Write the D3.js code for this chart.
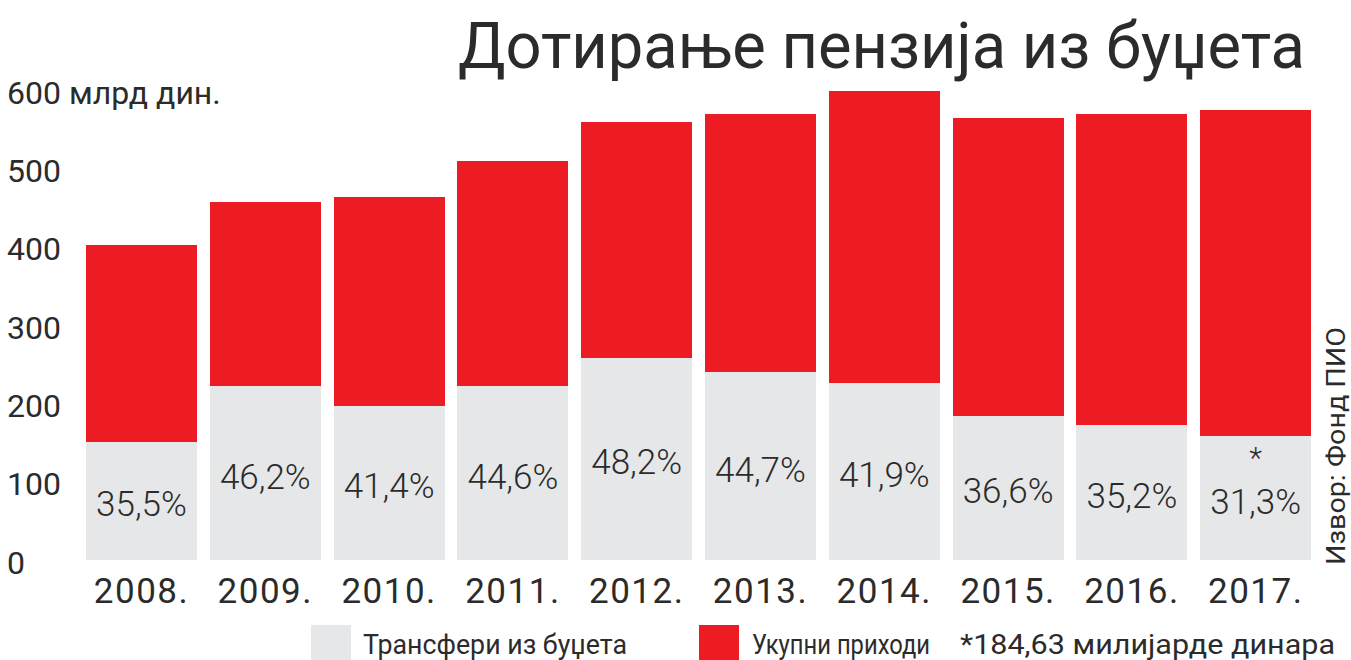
<!DOCTYPE html>
<html>
<head>
<meta charset="utf-8">
<script src="https://cdn.jsdelivr.net/npm/d3@7"></script>
<style>
  body { margin: 0; background: #fff; }
  text { font-family: Roboto, "Noto Sans", sans-serif; fill: #2b2b2b; }
</style>
</head>
<body>
<svg id="chart" width="1351" height="660"></svg>
<script>
// values (млрд дин.)
var years = ["2008.", "2009.", "2010.", "2011.", "2012.", "2013.", "2014.", "2015.", "2016.", "2017."];
var ukupniPrihodi = [402, 457, 463, 509, 559, 569, 599, 564, 569, 574];
var transferi = [151, 222, 197, 222, 258, 240, 226, 184, 172, 158];
var procenti = ["35,5%", "46,2%", "41,4%", "44,6%", "48,2%", "44,7%", "41,9%", "36,6%", "35,2%", "31,3%"];
var napomena = [false, false, false, false, false, false, false, false, false, true];
var yTicks = [0, 100, 200, 300, 400, 500, 600];

var red = "#ED1C24", grey = "#E6E7E8";

var svg = d3.select("#chart");

var x = d3.scaleBand()
	.domain(years)
	.range([79.6, 1317.6])
	.paddingInner(0.103)
	.paddingOuter(0.0515);

var y = d3.scaleLinear()
	.domain([0, 600])
	.range([560, 90]);

// title
svg.append("text")
	.attr("x", 1305)
	.attr("y", 68)
	.attr("text-anchor", "end")
	.attr("textLength", 847)
	.attr("lengthAdjust", "spacingAndGlyphs")
	.style("font-size", "64px")
	.text("Дотирање пензија из буџета");

// y axis labels
var yAxis = d3.axisRight(y)
	.tickValues(yTicks)
	.tickSize(0)
	.tickPadding(0)
	.tickFormat(function(d) { return d == 600 ? "600 млрд дин." : d; });
var gy = svg.append("g")
	.attr("transform", "translate(7,3)")
	.call(yAxis);
gy.select(".domain").remove();
gy.selectAll("text")
	.attr("fill", "#2b2b2b")
	.style("font-size", "32px")
	.style("font-family", "Roboto, sans-serif");

// bars
var bars = svg.append("g").attr("shape-rendering", "crispEdges");
bars.selectAll("rect.total")
	.data(years)
	.enter()
	.append("rect")
	.attr("class", "total")
	.attr("x", function(d) { return x(d); })
	.attr("width", x.bandwidth())
	.attr("y", function(d, i) { return y(ukupniPrihodi[i]); })
	.attr("height", function(d, i) { return y(0) - y(ukupniPrihodi[i]); })
	.style("fill", red);
bars.selectAll("rect.transfer")
	.data(years)
	.enter()
	.append("rect")
	.attr("class", "transfer")
	.attr("x", function(d) { return x(d); })
	.attr("width", x.bandwidth())
	.attr("y", function(d, i) { return y(transferi[i]); })
	.attr("height", function(d, i) { return y(0) - y(transferi[i]); })
	.style("fill", grey);

// percent labels
svg.append("g").selectAll("text")
	.data(years)
	.enter()
	.append("text")
	.attr("x", function(d) { return x(d) + x.bandwidth() / 2; })
	.attr("y", function(d, i) { return y(transferi[i] / 2) + 4; })
	.attr("text-anchor", "middle")
	.attr("dominant-baseline", "central")
	.style("font-size", "35px")
	.style("font-weight", "300")
	.text(function(d, i) { return procenti[i]; });

// asterisk on 2017
svg.append("g").selectAll("text")
	.data(years.filter(function(d, i) { return napomena[i]; }))
	.enter()
	.append("text")
	.attr("x", function(d) { return x(d) + x.bandwidth() / 2; })
	.attr("y", function(d) { return y(transferi[years.indexOf(d)] / 2) - 30; })
	.attr("text-anchor", "middle")
	.style("font-size", "30px")
	.style("font-weight", "300")
	.text("*");

// x axis (years)
var xAxis = d3.axisBottom(x).tickSize(0).tickPadding(0);
var gx = svg.append("g")
	.attr("transform", "translate(0,578)")
	.call(xAxis);
gx.select(".domain").remove();
gx.selectAll("text")
	.attr("fill", "#2b2b2b")
	.attr("dy", "0.71em")
	.style("font-size", "35px")
	.style("letter-spacing", "1.5px")
	.style("font-family", "Roboto, sans-serif");

// source
svg.append("text")
	.attr("transform", "translate(1345,565) rotate(-90)")
	.attr("textLength", 238)
	.attr("lengthAdjust", "spacingAndGlyphs")
	.style("font-size", "25px")
	.text("Извор: Фонд ПИО");

// legend
var legend = svg.append("g");
legend.append("rect").attr("x", 311).attr("y", 625).attr("width", 40).attr("height", 40).style("fill", grey);
legend.append("text").attr("x", 363).attr("y", 654)
	.attr("textLength", 264).attr("lengthAdjust", "spacingAndGlyphs")
	.style("font-size", "28px").text("Трансфери из буџета");
legend.append("rect").attr("x", 699).attr("y", 625).attr("width", 40).attr("height", 40).style("fill", red);
legend.append("text").attr("x", 752).attr("y", 654)
	.attr("textLength", 178).attr("lengthAdjust", "spacingAndGlyphs")
	.style("font-size", "28px").text("Укупни приходи");
legend.append("text").attr("x", 960).attr("y", 654)
	.attr("textLength", 375).attr("lengthAdjust", "spacingAndGlyphs")
	.style("font-size", "28px").text("*184,63 милијарде динара");
</script>
</body>
</html>
